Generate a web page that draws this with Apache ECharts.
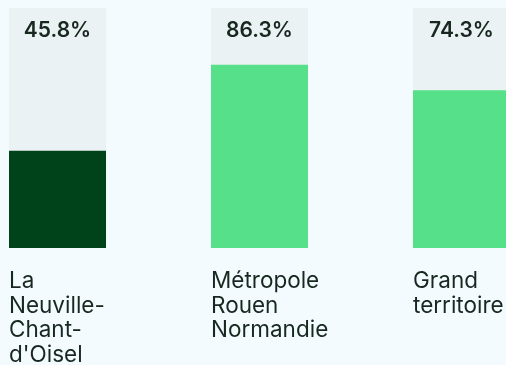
<!DOCTYPE html>
<html>
<head>
<meta charset="utf-8">
<script src="https://cdn.jsdelivr.net/npm/echarts@6/dist/echarts.min.js"></script>
<style>
  html, body { margin: 0; padding: 0; background: #f3fbff; }
  #chart { width: 506px; height: 365px; }
</style>
</head>
<body>
<div id="chart"></div>
<script>
// Share of households (%) per territory
const categories = ['La\nNeuville-\nChant-\nd\'Oisel', 'Métropole\nRouen\nNormandie', 'Grand\nterritoire'];
const values = [45.8, 86.3, 74.3];
const barColors = ['#00421a', '#56e08a', '#56e08a'];
const scaleMax = 113;

const chart = echarts.init(document.getElementById('chart'));
const font = 'Inter, "Noto Sans", sans-serif';

chart.setOption({
  backgroundColor: '#f3fbff',
  animation: false,
  // category points sit on the grid edges; bars overhang them
  grid: { left: 57.5, right: 44.5, top: 8, bottom: 117, outerBoundsMode: 'none', containLabel: false },
  xAxis: {
    type: 'category',
    boundaryGap: false,
    data: categories,
    axisLine: { show: false },
    axisTick: { show: false },
    splitLine: { show: false },
    axisLabel: {
      margin: 21,
      align: 'center',
      verticalAlign: 'top',
      interval: 0,
      hideOverlap: false,
      formatter: (name) => name.split('\n').map(l => '{t|' + l + '}').join('\n'),
      rich: {
        t: { align: 'left', width: 97, fontFamily: font, fontSize: 22.5, lineHeight: 24.5, color: '#17281f' }
      }
    }
  },
  yAxis: { type: 'value', min: 0, max: scaleMax, show: false, splitLine: { show: false } },
  series: [
    {
      type: 'bar',
      barWidth: 97,
      clip: false,
      silent: true,
      data: categories.map(() => scaleMax),
      itemStyle: { color: '#ebf2f4' },
      label: {
        show: true,
        position: 'insideTop',
        distance: 12,
        formatter: (p) => values[p.dataIndex].toFixed(1) + '%',
        fontFamily: font,
        fontSize: 21,
        fontWeight: 600,
        color: '#17281f'
      }
    },
    {
      type: 'bar',
      barWidth: 97,
      barGap: '-100%',
      clip: false,
      data: values.map((v, i) => ({ value: v, itemStyle: { color: barColors[i] } }))
    }
  ]
});
</script>
</body>
</html>
